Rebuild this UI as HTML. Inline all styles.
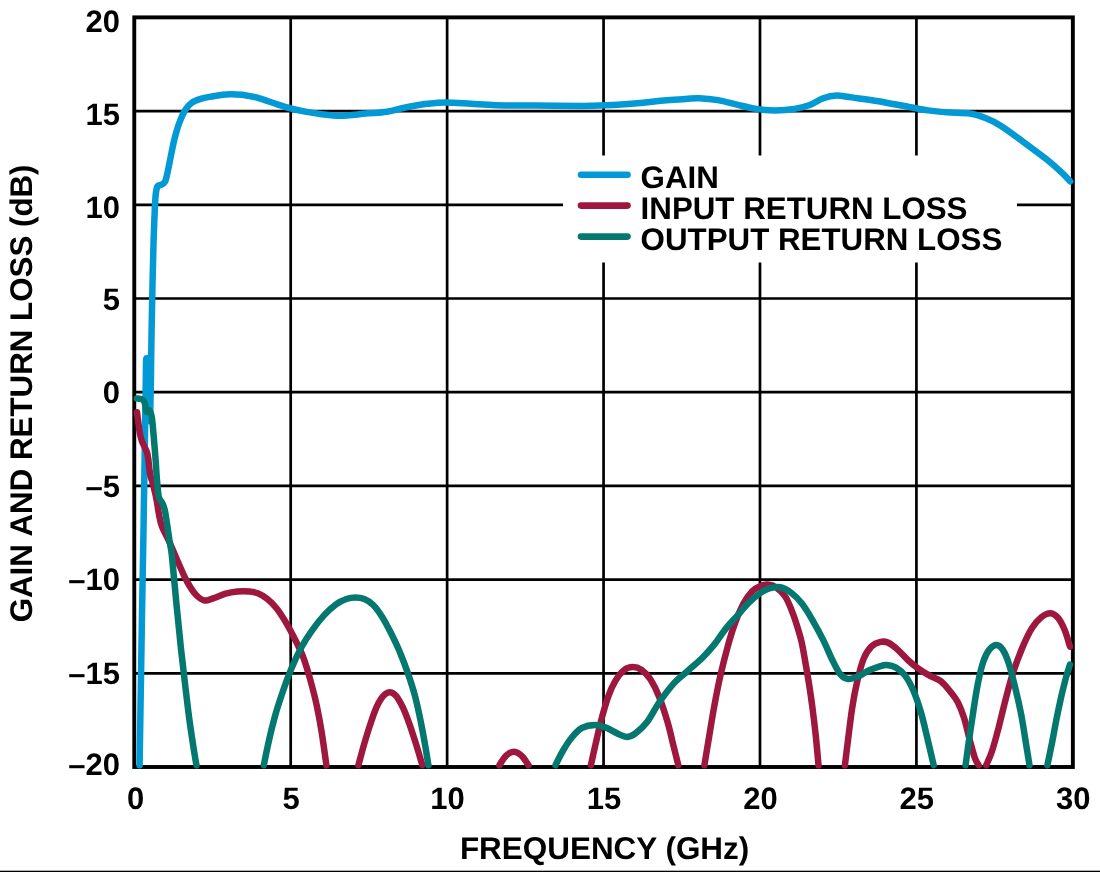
<!DOCTYPE html>
<html><head><meta charset="utf-8"><title>Gain and Return Loss vs Frequency</title>
<style>html,body{margin:0;padding:0;background:#fff;width:1100px;height:872px;overflow:hidden}body{font-family:"Liberation Sans",sans-serif;font-weight:bold}</style></head>
<body>
<svg width="1100" height="872" viewBox="0 0 1100 872" style="position:absolute;left:0;top:0;display:block;will-change:transform;text-rendering:geometricPrecision">
<rect x="0" y="0" width="1100" height="872" fill="#ffffff"/>
<path d="M290.70,17.38V767.0M447.13,17.38V767.0M603.56,17.38V767.0M759.99,17.38V767.0M916.42,17.38V767.0M134.27,111.08H1072.85M134.27,204.78H1072.85M134.27,298.49H1072.85M134.27,392.19H1072.85M134.27,485.89H1072.85M134.27,579.60H1072.85M134.27,673.30H1072.85" stroke="#000" stroke-width="2.7" fill="none"/>
<rect x="563" y="155.5" width="454" height="107" fill="#fff"/>
<rect x="134.27" y="17.38" width="938.58" height="749.62" fill="none" stroke="#000" stroke-width="3.9"/>
<g fill="none" stroke-linecap="round" stroke-linejoin="round">
<path d="M139.6,765.2C139.7,757.7 139.9,744.2 140.3,720.0C140.7,695.8 141.4,651.7 141.9,620.0C142.4,588.3 143.1,556.7 143.5,530.0C143.9,503.3 144.3,481.7 144.6,460.0C144.9,438.3 145.3,414.7 145.5,400.0C145.7,385.3 145.8,378.6 145.9,372.0C146.0,365.4 146.0,362.8 146.1,360.5C146.2,358.2 146.3,358.2 146.5,358.3C146.7,358.4 146.8,356.6 147.0,361.0C147.2,365.4 147.3,376.8 147.6,385.0C147.9,393.2 148.3,404.0 148.6,410.0C148.9,416.0 149.2,421.0 149.5,421.0C149.8,421.0 150.1,416.8 150.3,410.0C150.5,403.2 150.7,393.3 150.9,380.0C151.1,366.7 151.3,346.7 151.6,330.0C151.9,313.3 152.3,295.0 152.6,280.0C152.9,265.0 153.2,252.2 153.6,240.0C154.0,227.8 154.5,214.3 154.9,206.6C155.3,198.9 155.4,197.2 155.8,193.8C156.2,190.4 156.8,187.5 157.6,186.0C158.4,184.5 159.5,185.7 160.7,185.0C161.9,184.3 163.8,184.0 165.0,181.8C166.2,179.6 166.6,176.4 167.7,171.7C168.8,167.0 170.2,159.2 171.4,153.4C172.6,147.6 173.6,142.1 175.0,136.9C176.4,131.7 177.9,126.6 179.6,122.2C181.3,117.8 183.1,113.5 185.1,110.3C187.1,107.1 189.0,104.8 191.6,102.9C194.2,101.0 197.3,100.0 200.7,98.9C204.0,97.8 208.0,97.2 211.7,96.5C215.4,95.8 219.4,95.1 222.8,94.7C226.2,94.3 228.2,94.2 231.9,94.3C235.6,94.4 240.2,94.5 244.8,95.2C249.4,95.9 254.2,96.8 259.4,98.3C264.6,99.8 270.8,102.2 276.0,103.9C281.2,105.6 285.7,107.1 290.6,108.4C295.5,109.7 300.4,110.7 305.3,111.6C310.2,112.5 314.2,113.2 320.0,113.9C325.8,114.6 332.4,115.8 340.0,115.8C347.6,115.8 357.7,114.3 365.5,113.6C373.3,112.9 380.3,112.8 387.0,111.8C393.7,110.8 398.8,108.8 405.5,107.5C412.2,106.2 420.3,104.6 427.0,103.8C433.7,103.0 438.2,102.4 445.5,102.4C452.8,102.4 462.6,103.3 471.0,103.8C479.4,104.3 485.2,105.0 496.0,105.3C506.8,105.6 521.4,105.5 536.0,105.6C550.6,105.7 572.0,106.0 583.6,106.0C595.2,106.0 597.0,105.7 605.5,105.3C614.0,104.9 624.8,104.3 634.5,103.5C644.2,102.7 655.1,101.2 663.6,100.5C672.1,99.8 679.6,99.5 685.5,99.1C691.4,98.7 693.6,98.0 699.0,98.2C704.4,98.4 711.7,99.0 718.0,100.1C724.3,101.2 730.6,103.2 737.0,104.7C743.4,106.2 750.0,108.0 756.4,108.9C762.8,109.9 769.1,110.4 775.5,110.4C781.9,110.4 788.8,109.8 794.5,108.9C800.2,108.0 805.0,106.8 809.8,105.0C814.6,103.2 818.8,99.8 823.2,98.2C827.7,96.6 831.7,95.6 836.5,95.5C841.3,95.4 844.8,96.5 851.8,97.4C858.8,98.4 869.0,99.6 878.5,101.2C888.0,102.8 900.8,105.5 909.0,107.0C917.2,108.5 921.6,109.5 928.0,110.4C934.4,111.3 940.3,111.8 947.3,112.3C954.3,112.8 963.8,112.5 970.2,113.5C976.6,114.5 980.4,116.0 985.5,118.0C990.6,120.0 994.4,121.7 1000.7,125.7C1007.1,129.7 1016.0,136.5 1023.6,142.1C1031.2,147.7 1040.1,154.2 1046.5,159.3C1052.9,164.4 1057.8,168.9 1061.8,172.6C1065.8,176.3 1068.8,179.9 1070.2,181.4" stroke="#0399d5" stroke-width="6.5"/>
<path d="M137.0,412.2C137.2,414.0 137.9,419.4 138.4,423.0C138.9,426.6 139.3,430.4 139.9,433.5C140.5,436.6 141.2,439.2 142.0,441.5C142.8,443.8 143.8,445.2 144.6,447.0C145.4,448.8 146.4,450.5 147.0,452.5C147.6,454.5 147.9,456.5 148.3,459.0C148.7,461.5 148.8,464.8 149.2,467.5C149.5,470.2 149.8,472.8 150.4,475.5C151.0,478.2 151.8,479.6 152.8,483.5C153.8,487.4 155.4,493.8 156.4,498.8C157.4,503.8 157.9,508.8 158.8,513.4C159.7,518.0 160.2,521.7 161.9,526.3C163.6,530.9 166.2,535.0 168.9,540.9C171.6,546.8 174.9,555.1 177.9,561.8C180.9,568.5 183.8,575.6 186.8,581.1C189.8,586.6 192.8,591.4 195.8,594.6C198.8,597.8 201.7,599.9 204.7,600.5C207.7,601.1 210.2,599.2 213.7,598.1C217.2,597.0 221.6,594.8 225.6,593.7C229.6,592.6 233.5,592.0 237.5,591.6C241.5,591.2 246.0,591.3 249.5,591.6C253.0,591.9 255.4,592.2 258.4,593.4C261.4,594.6 264.4,596.6 267.4,599.0C270.4,601.4 273.3,604.3 276.3,608.0C279.3,611.7 282.3,616.4 285.3,621.4C288.3,626.4 291.2,631.8 294.2,637.8C297.2,643.8 300.5,650.0 303.2,657.2C305.9,664.4 308.4,673.0 310.6,681.0C312.8,689.0 314.8,696.4 316.6,704.9C318.4,713.4 320.0,721.8 321.6,731.8C323.2,741.8 325.6,759.6 326.4,765.2" stroke="#9d173f" stroke-width="6.5"/>
<path d="M358.4,765.2C359.4,761.6 362.3,750.5 364.3,743.7C366.3,736.9 368.3,730.3 370.3,724.3C372.3,718.3 374.3,712.2 376.2,707.9C378.1,703.5 379.9,700.5 381.5,698.2C383.1,695.9 384.2,694.9 385.6,693.9C387.0,692.9 388.4,692.3 389.8,692.3C391.2,692.3 392.6,692.9 393.9,693.9C395.2,694.9 396.3,695.9 397.8,698.2C399.3,700.5 401.2,703.8 403.1,707.9C405.0,712.0 407.0,717.3 409.0,722.8C411.0,728.3 413.2,735.2 415.0,740.7C416.8,746.2 418.3,751.5 419.5,755.6C420.7,759.7 421.9,763.6 422.4,765.2" stroke="#9d173f" stroke-width="6.5"/>
<path d="M499.4,765.2C500.2,763.9 503.0,759.4 504.6,757.4C506.2,755.4 507.7,754.1 509.2,753.2C510.7,752.3 512.3,751.8 513.8,751.8C515.3,751.8 516.9,752.3 518.4,753.2C519.9,754.1 521.2,755.2 522.9,757.2C524.6,759.2 527.6,763.9 528.5,765.2" stroke="#9d173f" stroke-width="6.5"/>
<path d="M590.9,765.2C591.6,762.0 593.4,753.5 595.1,746.2C596.8,738.9 598.7,729.8 600.9,721.5C603.1,713.2 605.8,703.5 608.2,696.7C610.6,689.9 612.8,685.2 615.5,680.7C618.2,676.2 621.3,672.3 624.2,670.0C627.1,667.7 630.0,667.1 632.9,667.1C635.8,667.1 638.7,668.0 641.6,670.0C644.5,672.0 647.5,674.8 650.4,679.3C653.3,683.8 656.2,689.4 659.1,696.7C662.0,704.0 665.4,714.6 667.8,722.9C670.2,731.1 671.8,739.2 673.6,746.2C675.4,753.2 677.5,762.0 678.3,765.2" stroke="#9d173f" stroke-width="6.5"/>
<path d="M704.4,765.2C705.1,761.1 706.8,750.4 708.5,740.4C710.2,730.4 712.4,716.2 714.4,705.5C716.4,694.8 718.0,686.1 720.2,676.4C722.4,666.7 725.1,656.0 727.5,647.3C729.9,638.6 732.0,631.3 734.7,624.0C737.4,616.7 740.6,609.1 743.5,603.6C746.4,598.1 749.5,594.2 752.2,591.3C755.0,588.4 757.4,587.3 760.0,586.2C762.6,585.1 764.9,584.4 767.6,584.6C770.3,584.8 773.1,585.3 776.0,587.3C778.9,589.3 782.6,592.6 785.2,596.5C787.9,600.4 790.1,606.6 791.9,610.9C793.7,615.2 794.4,617.3 796.0,622.5C797.6,627.7 800.0,635.0 801.6,642.0C803.2,649.0 804.5,657.6 805.8,664.8C807.1,672.0 808.1,677.9 809.2,685.0C810.3,692.1 811.3,698.8 812.4,707.3C813.5,715.8 814.8,726.6 815.8,736.2C816.8,745.9 818.1,760.4 818.5,765.2" stroke="#9d173f" stroke-width="6.5"/>
<path d="M844.9,765.2C845.4,760.9 846.9,748.8 848.1,739.3C849.3,729.8 850.6,718.2 852.1,708.4C853.6,698.6 855.5,688.9 857.4,680.6C859.3,672.4 861.3,664.6 863.6,658.9C865.9,653.2 868.5,649.4 871.3,646.6C874.1,643.8 877.8,642.5 880.6,641.9C883.4,641.3 885.5,641.5 888.3,642.8C891.1,644.1 894.2,646.6 897.6,649.6C901.0,652.6 905.0,657.4 908.4,660.5C911.8,663.6 914.1,665.6 917.7,668.2C921.3,670.8 926.1,673.7 930.0,675.9C933.9,678.1 937.4,678.6 940.8,681.2C944.1,683.8 947.3,687.9 950.1,691.4C952.9,694.9 955.5,697.8 957.8,702.2C960.1,706.6 962.0,711.5 964.0,717.7C966.0,723.9 967.8,732.6 969.6,739.3C971.4,746.0 973.3,753.5 974.8,757.8C976.3,762.1 977.9,764.0 978.6,765.2" stroke="#9d173f" stroke-width="6.5"/>
<path d="M986.2,765.2C987.1,763.0 989.8,757.6 991.8,751.7C993.8,745.8 995.7,738.8 998.0,730.0C1000.3,721.2 1003.1,708.9 1005.7,699.1C1008.3,689.3 1010.6,680.0 1013.5,671.3C1016.4,662.5 1019.7,653.8 1022.8,646.6C1025.9,639.4 1028.9,632.9 1032.0,628.0C1035.1,623.1 1038.2,619.7 1041.3,617.2C1044.4,614.7 1047.8,613.1 1050.6,613.2C1053.4,613.4 1056.0,615.4 1058.3,618.1C1060.6,620.8 1062.5,624.9 1064.5,629.6C1066.5,634.4 1069.1,643.8 1070.0,646.6" stroke="#9d173f" stroke-width="6.5"/>
<path d="M136.8,398.4C137.6,398.5 140.5,398.5 141.8,399.3C143.2,400.1 144.2,401.2 144.9,403.3C145.7,405.4 145.5,410.4 146.3,411.6C147.1,412.8 148.8,409.6 149.7,410.7C150.6,411.8 151.2,413.7 151.9,418.0C152.6,422.3 153.1,429.7 153.7,436.4C154.3,443.1 154.9,451.1 155.5,458.4C156.1,465.7 156.4,474.0 157.0,480.4C157.6,486.8 158.0,493.2 158.8,496.9C159.6,500.6 160.9,500.2 161.9,502.4C162.9,504.5 163.8,505.8 164.7,509.8C165.6,513.8 166.6,520.8 167.4,526.3C168.2,531.8 169.1,537.9 169.8,542.8C170.6,547.7 170.8,545.7 171.9,555.8C173.0,565.9 174.9,588.1 176.4,603.5C177.9,618.9 179.4,634.3 180.9,648.2C182.4,662.1 183.9,674.6 185.4,687.0C186.9,699.4 188.3,711.9 189.8,722.8C191.3,733.7 193.2,745.5 194.3,752.6C195.4,759.7 196.1,763.1 196.5,765.2" stroke="#04786f" stroke-width="6.5"/>
<path d="M263.8,765.2C264.6,761.1 267.1,748.8 268.9,740.7C270.7,732.6 272.6,724.8 274.8,716.8C277.0,708.8 279.6,701.0 282.3,693.0C285.0,685.0 288.0,676.8 291.2,669.1C294.4,661.4 298.2,653.3 301.7,646.8C305.2,640.3 308.4,635.5 312.1,630.3C315.8,625.1 320.0,619.7 324.0,615.4C328.0,611.1 332.3,607.1 336.0,604.4C339.7,601.7 343.2,600.1 346.4,599.0C349.6,597.9 352.3,597.5 355.3,597.5C358.3,597.5 361.3,597.8 364.3,599.0C367.3,600.2 370.2,602.0 373.2,605.0C376.2,608.0 379.2,612.2 382.2,616.9C385.2,621.6 388.1,627.3 391.1,633.3C394.1,639.3 397.4,646.2 400.1,652.7C402.8,659.2 405.0,664.9 407.5,672.1C410.0,679.3 412.8,687.5 415.0,696.0C417.2,704.5 419.3,714.3 421.0,722.8C422.7,731.2 424.2,739.6 425.4,746.7C426.6,753.8 427.9,762.1 428.4,765.2" stroke="#04786f" stroke-width="6.5"/>
<path d="M555.5,765.2C556.7,762.8 560.4,755.1 563.1,750.5C565.8,745.9 568.6,741.3 571.8,737.5C574.9,733.7 578.1,730.0 582.0,727.9C585.9,725.8 591.0,724.9 595.1,724.9C599.2,724.9 602.8,726.4 606.7,727.9C610.6,729.4 615.0,732.5 618.4,734.0C621.8,735.5 624.2,737.0 627.1,736.9C630.0,736.8 632.4,735.7 635.8,733.1C639.2,730.5 643.6,726.6 647.5,721.5C651.4,716.4 654.8,708.8 659.1,702.5C663.5,696.2 668.8,688.9 673.6,683.6C678.5,678.3 683.4,674.9 688.2,670.5C693.1,666.1 698.3,661.9 702.7,657.5C707.1,653.1 710.5,649.2 714.4,644.4C718.3,639.5 722.1,633.2 726.0,628.4C729.9,623.5 733.7,619.7 737.6,615.3C741.5,610.9 745.4,606.0 749.3,602.2C753.2,598.4 757.6,594.9 760.9,592.6C764.2,590.3 766.1,589.3 769.3,588.4C772.5,587.5 776.5,586.5 780.1,587.2C783.7,587.9 787.3,589.8 790.9,592.5C794.5,595.2 798.1,598.7 801.7,603.3C805.3,607.9 809.0,614.1 812.6,620.3C816.2,626.5 820.1,633.7 823.4,640.4C826.7,647.1 829.8,654.8 832.6,660.5C835.4,666.2 837.8,671.3 840.4,674.4C843.0,677.5 845.3,678.6 848.1,679.0C850.9,679.4 854.0,678.2 857.4,676.8C860.8,675.4 864.6,672.4 868.2,670.7C871.8,669.0 875.9,667.5 879.0,666.6C882.1,665.7 883.9,664.9 886.7,665.1C889.5,665.3 892.9,665.8 896.0,667.6C899.1,669.4 902.5,672.2 905.3,675.9C908.1,679.6 910.4,683.9 913.0,689.8C915.6,695.7 918.4,703.8 920.7,711.5C923.0,719.2 925.1,728.7 926.9,736.2C928.7,743.7 930.5,751.5 931.6,756.3C932.7,761.1 933.3,763.7 933.7,765.2" stroke="#04786f" stroke-width="6.5"/>
<path d="M965.6,765.2C966.1,761.4 967.4,751.4 968.7,742.4C970.0,733.4 971.8,721.3 973.3,711.5C974.8,701.7 976.2,691.9 977.9,683.6C979.5,675.4 981.3,667.7 983.2,662.0C985.1,656.3 987.2,652.4 989.4,649.6C991.6,646.8 994.3,645.0 996.5,645.0C998.7,645.0 1000.7,646.5 1002.7,649.6C1004.8,652.7 1006.8,657.3 1008.8,663.5C1010.8,669.7 1012.9,678.2 1015.0,686.7C1017.1,695.2 1019.4,705.2 1021.2,714.5C1023.0,723.8 1024.4,733.9 1025.8,742.4C1027.2,750.9 1028.9,761.4 1029.5,765.2" stroke="#04786f" stroke-width="6.5"/>
<path d="M1047.4,765.2C1048.2,761.4 1050.5,750.3 1052.1,742.4C1053.7,734.5 1055.2,725.4 1056.8,717.7C1058.3,710.0 1059.9,702.7 1061.4,696.0C1062.9,689.3 1064.6,682.8 1066.0,677.5C1067.4,672.2 1069.3,666.7 1070.0,664.5" stroke="#04786f" stroke-width="6.5"/>
</g>
<path d="M581,174.8H627.5" stroke="#0399d5" stroke-width="6.6" stroke-linecap="round"/>
<path d="M581,205.6H627.5" stroke="#9d173f" stroke-width="6.6" stroke-linecap="round"/>
<path d="M581,236.6H627.5" stroke="#04786f" stroke-width="6.6" stroke-linecap="round"/>
<text x="640.6" y="188.2" font-family="Liberation Sans, sans-serif" font-weight="bold" font-size="31.3">GAIN</text>
<text x="640.6" y="219.2" font-family="Liberation Sans, sans-serif" font-weight="bold" font-size="31.3">INPUT RETURN LOSS</text>
<text x="640.6" y="250.1" font-family="Liberation Sans, sans-serif" font-weight="bold" font-size="31.3">OUTPUT RETURN LOSS</text>
<text x="120" y="31.6" text-anchor="end" font-family="Liberation Sans, sans-serif" font-weight="bold" font-size="31">20</text>
<text x="120" y="125.0" text-anchor="end" font-family="Liberation Sans, sans-serif" font-weight="bold" font-size="31">15</text>
<text x="120" y="218.2" text-anchor="end" font-family="Liberation Sans, sans-serif" font-weight="bold" font-size="31">10</text>
<text x="120" y="310.2" text-anchor="end" font-family="Liberation Sans, sans-serif" font-weight="bold" font-size="31">5</text>
<text x="120" y="403.4" text-anchor="end" font-family="Liberation Sans, sans-serif" font-weight="bold" font-size="31">0</text>
<text x="120" y="496.8" text-anchor="end" font-family="Liberation Sans, sans-serif" font-weight="bold" font-size="31">–5</text>
<text x="120" y="590.1" text-anchor="end" font-family="Liberation Sans, sans-serif" font-weight="bold" font-size="31">–10</text>
<text x="120" y="683.6" text-anchor="end" font-family="Liberation Sans, sans-serif" font-weight="bold" font-size="31">–15</text>
<text x="120" y="775.4" text-anchor="end" font-family="Liberation Sans, sans-serif" font-weight="bold" font-size="31">–20</text>
<text x="135.7" y="809.0" text-anchor="middle" font-family="Liberation Sans, sans-serif" font-weight="bold" font-size="31">0</text>
<text x="291.1" y="809.0" text-anchor="middle" font-family="Liberation Sans, sans-serif" font-weight="bold" font-size="31">5</text>
<text x="447.5" y="809.0" text-anchor="middle" font-family="Liberation Sans, sans-serif" font-weight="bold" font-size="31">10</text>
<text x="604.0" y="809.0" text-anchor="middle" font-family="Liberation Sans, sans-serif" font-weight="bold" font-size="31">15</text>
<text x="760.4" y="809.0" text-anchor="middle" font-family="Liberation Sans, sans-serif" font-weight="bold" font-size="31">20</text>
<text x="916.8" y="809.0" text-anchor="middle" font-family="Liberation Sans, sans-serif" font-weight="bold" font-size="31">25</text>
<text x="1073.2" y="809.0" text-anchor="middle" font-family="Liberation Sans, sans-serif" font-weight="bold" font-size="31">30</text>
<text x="604.6" y="858.7" text-anchor="middle" font-family="Liberation Sans, sans-serif" font-weight="bold" font-size="31.45">FREQUENCY (GHz)</text>
<text transform="translate(32.4,393.4) rotate(-90)" text-anchor="middle" font-family="Liberation Sans, sans-serif" font-weight="bold" font-size="31.3">GAIN AND RETURN LOSS (dB)</text>
<rect x="0" y="870.7" width="1100" height="1.3" fill="#000"/>
</svg>
</body></html>
